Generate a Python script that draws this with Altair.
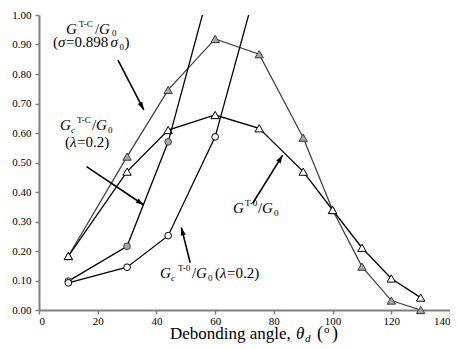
import math
import altair as alt
import pandas as pd

# ---- data ----
angle = [10, 30, 44, 60, 75, 90, 100, 110, 120, 130]
g_tc = [0.183, 0.520, 0.746, 0.919, 0.867, 0.584, 0.339, 0.147, 0.032, 0.000]
g_t0 = [0.183, 0.469, 0.610, 0.661, 0.616, 0.469, 0.339, 0.211, 0.107, 0.042]
gc_tc_angle = [10, 30, 44, 60]
gc_tc = [0.098, 0.216, 0.570, 1.16]
gc_t0_angle = [10, 30, 44, 60, 75]
gc_t0 = [0.092, 0.145, 0.252, 0.587, 1.13]

x_ticks = [0, 20, 40, 60, 80, 100, 120, 140]
y_ticks = [0.0, 0.1, 0.2, 0.3, 0.4, 0.5, 0.6, 0.7, 0.8, 0.9, 1.0]

# annotation text pieces (positions read in page pixels)
ann_text = ["G", "T-C", "/", "G", "0",
            "(", "σ", "=0.898", "σ", "0", ")",
            "G", "c", "T-C", "/", "G", "0",
            "(", "λ", "=0.2)",
            "G", "c", "T-0", "/", "G", "0", "(", "λ", "=0.2)",
            "G", "T-0", "/", "G", "0",
            "Debonding angle,", "θ", "d", "(", "o", ")"]
ann_px = [66, 79, 95, 99, 112,
          53, 58, 66, 110.5, 119.5, 124.5,
          60, 71, 77, 92, 96, 108,
          65, 70, 77,
          160, 171, 178, 192, 196, 208, 215, 220, 227,
          233, 245, 258, 262, 274,
          170, 296, 305, 317, 324, 332]
ann_py = [34, 27, 34, 34, 36,
          47, 47, 47, 47, 50, 47,
          130, 133, 123, 130, 130, 133,
          147, 147, 147,
          278, 281, 271, 278, 278, 281, 278, 278, 278,
          213, 206, 213, 213, 216,
          339, 339, 342, 339, 333, 339]
ann_size = [15, 9, 15, 15, 9,
            15, 15, 15, 15, 9, 15,
            15, 9, 9, 15, 15, 9,
            15, 15, 15,
            15, 9, 9, 15, 15, 9, 15, 15, 15,
            15, 9, 15, 15, 9,
            17, 17, 11, 18, 11, 18]
ann_italic = [1, 0, 0, 1, 0,
              0, 1, 0, 1, 0, 0,
              1, 1, 0, 0, 1, 0,
              0, 1, 0,
              1, 1, 0, 0, 1, 0, 0, 1, 0,
              1, 0, 0, 1, 0,
              0, 1, 1, 0, 0, 0]

# arrows: tail -> head (data coordinates)
arr_x = [26.9, 16.2, 51.5, 72.8]
arr_y = [0.847, 0.486, 0.160, 0.362]
arr_x2 = [35.7, 35.7, 48.5, 83.0]
arr_y2 = [0.678, 0.356, 0.280, 0.525]

W, H = 411, 295
XMAX, YMAX = 140, 1.0
LEFT, TOP = 39, 15
FONT = "Liberation Serif"

sx = W / XMAX
sy = H / YMAX
ann_x = [(p - LEFT) / sx for p in ann_px]
ann_y = [(TOP + H - p) / sy for p in ann_py]

arr_ang = []
for x1, y1, x2, y2 in zip(arr_x, arr_y, arr_x2, arr_y2):
    dxp = (x2 - x1) * sx
    dyp = -(y2 - y1) * sy
    arr_ang.append(math.degrees(math.atan2(dxp, -dyp)) % 360)

xs = alt.Scale(domain=[0, XMAX])
ys = alt.Scale(domain=[0, YMAX])
xaxis = alt.Axis(values=x_ticks, title=None, grid=False, labelFont=FONT,
                 labelFontSize=11, tickSize=4, labelPadding=1)
yaxis = alt.Axis(values=y_ticks, title=None, grid=False, format=".2f",
                 labelFont=FONT, labelFontSize=11, tickSize=4, labelPadding=4)


def X(f="x"):
    return alt.X(f + ":Q", scale=xs, axis=xaxis)


def Y(f="y"):
    return alt.Y(f + ":Q", scale=ys, axis=yaxis)


df1 = pd.DataFrame({"x": angle, "y": g_tc})
df2 = pd.DataFrame({"x": angle, "y": g_t0})
df3 = pd.DataFrame({"x": gc_tc_angle, "y": gc_tc})
df4 = pd.DataFrame({"x": gc_t0_angle, "y": gc_t0})


def series(df, line_color, fill, stroke, shape, size):
    line = alt.Chart(df).mark_line(color=line_color, strokeWidth=1.3, clip=True).encode(x=X(), y=Y())
    pts = alt.Chart(df).transform_filter("datum.y <= 1").mark_point(
        shape=shape, filled=True, fill=fill, stroke=stroke,
        strokeWidth=1, size=size, opacity=1).encode(x=X(), y=Y())
    return line + pts


s1 = series(df1, "#444444", "#a6a6a6", "#3a3a3a", "triangle-up", 70)
s2 = series(df2, "#000000", "#ffffff", "#000000", "triangle-up", 70)
s3 = series(df3, "#000000", "#a6a6a6", "#404040", "circle", 45)
s4 = series(df4, "#000000", "#ffffff", "#000000", "circle", 45)

ann = pd.DataFrame({"x": ann_x, "y": ann_y, "t": ann_text, "s": ann_size, "it": ann_italic})
txt_n = alt.Chart(ann).transform_filter("datum.it == 0").mark_text(
    align="left", baseline="alphabetic", font=FONT, color="black").encode(
    x=X(), y=Y(), text="t:N", size=alt.Size("s:Q", scale=None))
txt_i = alt.Chart(ann).transform_filter("datum.it == 1").mark_text(
    align="left", baseline="alphabetic", font=FONT, fontStyle="italic", color="black").encode(
    x=X(), y=Y(), text="t:N", size=alt.Size("s:Q", scale=None))

arr = pd.DataFrame({"x": arr_x, "y": arr_y, "x2": arr_x2, "y2": arr_y2, "a": arr_ang})
shafts = alt.Chart(arr).mark_rule(color="black", strokeWidth=1.6).encode(
    x=X(), y=Y(), x2="x2:Q", y2="y2:Q")
heads = alt.Chart(arr).mark_point(shape="M0,0L0.32,1L-0.32,1Z", filled=True, color="black",
                                  size=256, opacity=1).encode(
    x=X("x2"), y=Y("y2"), angle=alt.Angle("a:Q", scale=None))

chart = alt.layer(s1, s2, s3, s4, shafts, heads, txt_n, txt_i).properties(
    width=W, height=H,
    autosize=alt.AutoSizeParams(type="none"),
    padding={"left": LEFT - 8, "top": TOP - 8, "right": 0, "bottom": 34},
).configure_view(stroke=None).configure_axis(
    domainColor="#808080", domainWidth=2, tickColor="#808080", tickWidth=1.5,
    labelColor="black", labelFont=FONT, labelFontSize=11)

chart.save("out.html", embed_options={"renderer": "svg", "actions": False})
